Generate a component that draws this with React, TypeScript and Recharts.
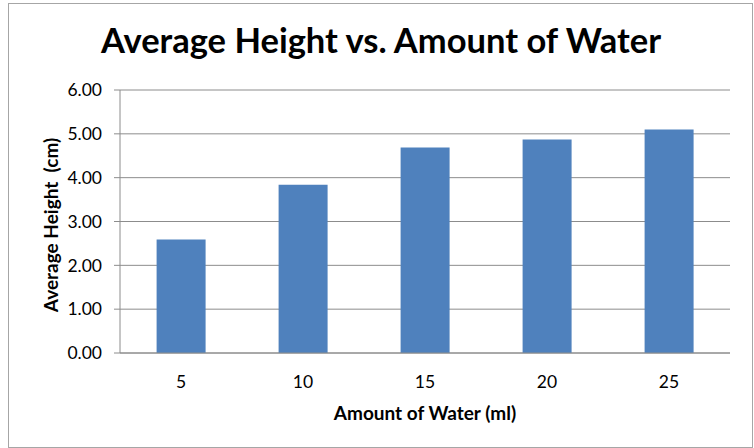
import React from "react";
import { BarChart, Bar, XAxis, YAxis, CartesianGrid } from "recharts";

const categories = ["5", "10", "15", "20", "25"];
const heights = [2.59, 3.84, 4.69, 4.87, 5.1];
const yTicks = [0, 1, 2, 3, 4, 5, 6];
const title = "Average Height vs. Amount of Water";
const xTitle = "Amount of Water (ml)";
const yTitle = "Average Height\u00A0 (cm)";

const data = categories.map((c, i) => ({ water: c, height: heights[i] }));

const FONT = "Lato, 'Open Sans', sans-serif";

const YLabel = (props: any) => {
  const vb = props.viewBox || {};
  const cx = vb.x + vb.width - 70;
  const cy = 225;
  return (
    <text
      x={cx}
      y={cy}
      transform={`rotate(-90 ${cx} ${cy})`}
      textAnchor="middle"
      dominantBaseline="central"
      fontFamily={FONT}
      fontWeight="bold"
      fontSize={19}
      fill="#000"
    >
      {yTitle}
    </text>
  );
};

const XLabel = (props: any) => {
  const vb = props.viewBox || {};
  const cx = vb.x + vb.width / 2;
  const cy = 412;
  return (
    <text
      x={cx}
      y={cy}
      textAnchor="middle"
      dominantBaseline="central"
      fontFamily={FONT}
      fontWeight="bold"
      fontSize={19}
      fill="#000"
    >
      {xTitle}
    </text>
  );
};

export default function App() {
  return (
    <div style={{ position: "absolute", left: 0, top: 0, width: 754, height: 448, background: "#fff" }}>
      <div
        style={{
          position: "absolute",
          left: 8,
          top: 3,
          width: 743,
          height: 443,
          border: "1px solid #a6a6a6",
        }}
      />
      <div
        style={{
          position: "absolute",
          left: 0,
          top: 20,
          width: 762,
          textAlign: "center",
          fontFamily: FONT,
          fontWeight: "bold",
          fontSize: 34.5,
          lineHeight: "40px",
          color: "#000",
        }}
      >
        {title}
      </div>
      <div style={{ position: "absolute", left: 0, top: 0 }}>
        <BarChart
          width={754}
          height={448}
          data={data}
          margin={{ top: 90, right: 24, bottom: 35, left: 0 }}
          barCategoryGap="30%"
        >
          <CartesianGrid vertical={false} stroke="#8c8c8c" strokeWidth={1} />
          <XAxis
            dataKey="water"
            height={60}
            tickLine={false}
            axisLine={{ stroke: "#8c8c8c" }}
            tick={{ fontFamily: FONT, fontSize: 17.5, fill: "#000" }}
            tickMargin={17}
            label={<XLabel />}
          />
          <YAxis
            width={120}
            domain={[0, 6]}
            ticks={yTicks}
            interval={0}
            tickFormatter={(v: number) => v.toFixed(2)}
            tickSize={6}
            tickMargin={12}
            tickLine={{ stroke: "#8c8c8c" }}
            axisLine={{ stroke: "#8c8c8c" }}
            tick={{ fontFamily: FONT, fontSize: 17.5, fill: "#000" }}
            label={<YLabel />}
          />
          <Bar dataKey="height" fill="#4F81BD" isAnimationActive={false} />
        </BarChart>
      </div>
    </div>
  );
}
